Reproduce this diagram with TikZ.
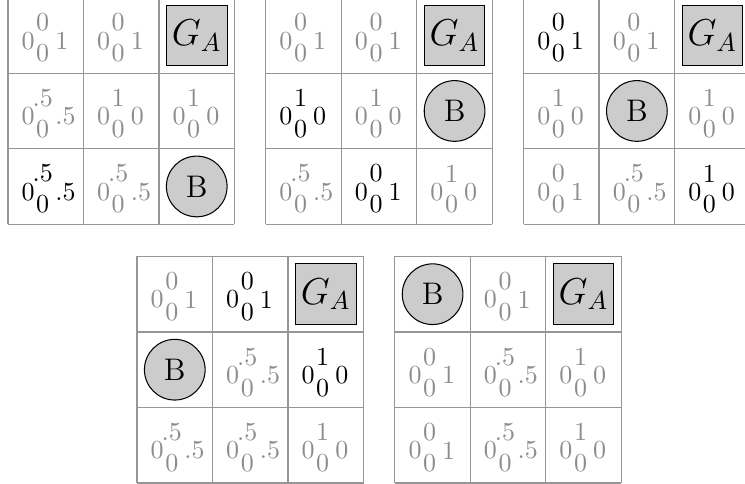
\documentclass[tikz,border=0pt]{standalone}
\usepackage{amsmath,amssymb}
\usepackage{tikz}
\usetikzlibrary{positioning,calc}
\definecolor{FillGray}{RGB}{204,204,204}
\definecolor{DimGray}{RGB}{140,140,140}
\definecolor{LineGray}{RGB}{150,150,150}
\tikzset{
	val/.style={inner sep=0pt,text=DimGray},
	valon/.style={inner sep=0pt,text=black},
	cellgrid/.style={draw=LineGray,line width=0.5pt},
	goal/.style={draw=black,fill=FillGray,inner sep=0pt,minimum size=0.82cm,font=\Large},
	agent/.style={circle,draw=black,fill=FillGray,inner sep=0pt,minimum size=0.82cm,font=\large},
}
% one cell: name, column, row, top value, right value, style
\newcommand{\qcell}[6]{%
	\coordinate (#1) at ({#2-0.5},{0.5-#3});
	\node[#6,anchor=east] (#1l) at ($(#1)+(-0.14,-0.07)$) {0};
	\node[#6] (#1t) at ($(#1)+(-0.04,0.172)$) {#4};
	\node[#6] (#1b) at ($(#1)+(-0.04,-0.238)$) {0};
	\node[#6,anchor=west] (#1r) at ($(#1)+(0.12,-0.07)$) {#5};
}
% the 3x3 board of one panel
\newcommand{\board}{%
	\foreach \k in {0,...,3} {
		\draw[cellgrid] (\k,0) -- (\k,-3);
		\draw[cellgrid] (0,-\k) -- (3,-\k);
	}
}

\begin{document}
\begin{tikzpicture}[x=1.02cm,y=1.02cm]
	\useasboundingbox (0,0) rectangle (9.868,-6.411);
	% top row
	\begin{scope}[shift={(0.106,0.03)}]
		\board
		\qcell{p1c11}{1}{1}{0}{1}{val}
		\qcell{p1c12}{2}{1}{0}{1}{val}
		\node[goal] (p1goal) at (2.5,-0.5) {$G_A$};
		\qcell{p1c21}{1}{2}{.5}{.5}{val}
		\qcell{p1c22}{2}{2}{1}{0}{val}
		\qcell{p1c23}{3}{2}{1}{0}{val}
		\qcell{p1c31}{1}{3}{.5}{.5}{valon}
		\qcell{p1c32}{2}{3}{.5}{.5}{val}
		\node[agent] (p1b) at (2.5,-2.5) {B};
	\end{scope}
	\begin{scope}[shift={(3.521,0.03)}]
		\board
		\qcell{p2c11}{1}{1}{0}{1}{val}
		\qcell{p2c12}{2}{1}{0}{1}{val}
		\node[goal] (p2goal) at (2.5,-0.5) {$G_A$};
		\qcell{p2c21}{1}{2}{1}{0}{valon}
		\qcell{p2c22}{2}{2}{1}{0}{val}
		\node[agent] (p2b) at (2.5,-1.5) {B};
		\qcell{p2c31}{1}{3}{.5}{.5}{val}
		\qcell{p2c32}{2}{3}{0}{1}{valon}
		\qcell{p2c33}{3}{3}{1}{0}{val}
	\end{scope}
	\begin{scope}[shift={(6.936,0.03)}]
		\board
		\qcell{p3c11}{1}{1}{0}{1}{valon}
		\qcell{p3c12}{2}{1}{0}{1}{val}
		\node[goal] (p3goal) at (2.5,-0.5) {$G_A$};
		\qcell{p3c21}{1}{2}{1}{0}{val}
		\node[agent] (p3b) at (1.5,-1.5) {B};
		\qcell{p3c23}{3}{2}{1}{0}{val}
		\qcell{p3c31}{1}{3}{0}{1}{val}
		\qcell{p3c32}{2}{3}{.5}{.5}{val}
		\qcell{p3c33}{3}{3}{1}{0}{valon}
	\end{scope}
	% bottom row
	\begin{scope}[shift={(1.815,-3.397)}]
		\board
		\qcell{p4c11}{1}{1}{0}{1}{val}
		\qcell{p4c12}{2}{1}{0}{1}{valon}
		\node[goal] (p4goal) at (2.5,-0.5) {$G_A$};
		\node[agent] (p4b) at (0.5,-1.5) {B};
		\qcell{p4c22}{2}{2}{.5}{.5}{val}
		\qcell{p4c23}{3}{2}{1}{0}{valon}
		\qcell{p4c31}{1}{3}{.5}{.5}{val}
		\qcell{p4c32}{2}{3}{.5}{.5}{val}
		\qcell{p4c33}{3}{3}{1}{0}{val}
	\end{scope}
	\begin{scope}[shift={(5.23,-3.397)}]
		\board
		\node[agent] (p5b) at (0.5,-0.5) {B};
		\qcell{p5c12}{2}{1}{0}{1}{val}
		\node[goal] (p5goal) at (2.5,-0.5) {$G_A$};
		\qcell{p5c21}{1}{2}{0}{1}{val}
		\qcell{p5c22}{2}{2}{.5}{.5}{val}
		\qcell{p5c23}{3}{2}{1}{0}{val}
		\qcell{p5c31}{1}{3}{0}{1}{val}
		\qcell{p5c32}{2}{3}{.5}{.5}{val}
		\qcell{p5c33}{3}{3}{1}{0}{val}
	\end{scope}
\end{tikzpicture}
\end{document}
